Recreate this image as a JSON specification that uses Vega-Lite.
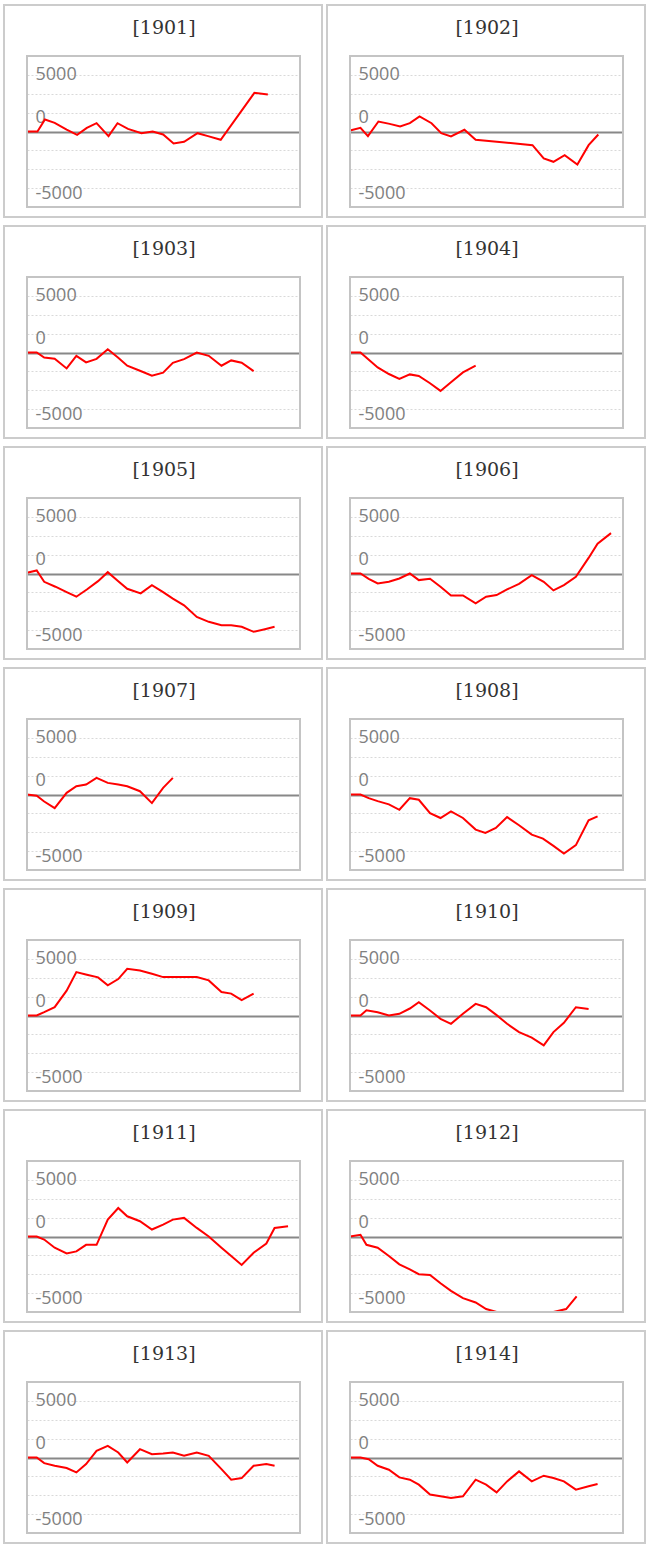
{
  "$schema": "https://vega.github.io/schema/vega-lite/v6.json",
  "background": "white",
  "padding": {"left": 3, "top": 4, "right": 0, "bottom": 0},
  "config": {
    "view": {"stroke": "#cccccc", "strokeWidth": 2},
    "line": {"color": "#ff0000", "strokeWidth": 2, "clip": false},
    "rect": {"filled": false, "stroke": "#c4c4c4", "strokeWidth": 2},
    "title": {"font": "DejaVu Serif", "fontSize": 19, "fontWeight": "normal", "color": "#333333", "anchor": "middle", "frame": "group", "baseline": "middle", "offset": -33, "dx": 1}
  },
  "data": {
    "values": [
      {"year": 1901, "day": 0, "value": 0}, {"year": 1901, "day": 14, "value": 0}, {"year": 1901, "day": 24, "value": 1270},
      {"year": 1901, "day": 37, "value": 920}, {"year": 1901, "day": 53, "value": 210}, {"year": 1901, "day": 67, "value": -350},
      {"year": 1901, "day": 80, "value": 390}, {"year": 1901, "day": 93, "value": 880}, {"year": 1901, "day": 109, "value": -490},
      {"year": 1901, "day": 121, "value": 880}, {"year": 1901, "day": 135, "value": 280}, {"year": 1901, "day": 153, "value": -180},
      {"year": 1901, "day": 168, "value": 0}, {"year": 1901, "day": 182, "value": -320}, {"year": 1901, "day": 196, "value": -1270},
      {"year": 1901, "day": 210, "value": -1090}, {"year": 1901, "day": 228, "value": -180}, {"year": 1901, "day": 242, "value": -490},
      {"year": 1901, "day": 259, "value": -880}, {"year": 1901, "day": 304, "value": 4100}, {"year": 1901, "day": 322, "value": 3920},
      {"year": 1902, "day": 0, "value": 110}, {"year": 1902, "day": 14, "value": 390}, {"year": 1902, "day": 24, "value": -490},
      {"year": 1902, "day": 38, "value": 1060}, {"year": 1902, "day": 53, "value": 810}, {"year": 1902, "day": 67, "value": 530},
      {"year": 1902, "day": 80, "value": 880}, {"year": 1902, "day": 93, "value": 1590}, {"year": 1902, "day": 109, "value": 880},
      {"year": 1902, "day": 122, "value": -180}, {"year": 1902, "day": 135, "value": -530}, {"year": 1902, "day": 153, "value": 180},
      {"year": 1902, "day": 168, "value": -880}, {"year": 1902, "day": 244, "value": -1450}, {"year": 1902, "day": 259, "value": -2860},
      {"year": 1902, "day": 272, "value": -3210}, {"year": 1902, "day": 287, "value": -2510}, {"year": 1902, "day": 304, "value": -3500},
      {"year": 1902, "day": 319, "value": -1450}, {"year": 1902, "day": 332, "value": -320},
      {"year": 1903, "day": 0, "value": 0}, {"year": 1903, "day": 13, "value": 0}, {"year": 1903, "day": 23, "value": -530},
      {"year": 1903, "day": 37, "value": -670}, {"year": 1903, "day": 53, "value": -1690}, {"year": 1903, "day": 66, "value": -350},
      {"year": 1903, "day": 79, "value": -1050}, {"year": 1903, "day": 93, "value": -670}, {"year": 1903, "day": 108, "value": 350},
      {"year": 1903, "day": 122, "value": -560}, {"year": 1903, "day": 134, "value": -1400}, {"year": 1903, "day": 151, "value": -1930},
      {"year": 1903, "day": 167, "value": -2460}, {"year": 1903, "day": 182, "value": -2140}, {"year": 1903, "day": 195, "value": -1090},
      {"year": 1903, "day": 210, "value": -700}, {"year": 1903, "day": 227, "value": 0}, {"year": 1903, "day": 243, "value": -350},
      {"year": 1903, "day": 260, "value": -1400}, {"year": 1903, "day": 273, "value": -840}, {"year": 1903, "day": 287, "value": -1090},
      {"year": 1903, "day": 303, "value": -1970},
      {"year": 1904, "day": 0, "value": 0}, {"year": 1904, "day": 14, "value": 0}, {"year": 1904, "day": 37, "value": -1580},
      {"year": 1904, "day": 52, "value": -2280}, {"year": 1904, "day": 66, "value": -2810}, {"year": 1904, "day": 80, "value": -2320},
      {"year": 1904, "day": 92, "value": -2490}, {"year": 1904, "day": 107, "value": -3260}, {"year": 1904, "day": 121, "value": -4070},
      {"year": 1904, "day": 135, "value": -3160}, {"year": 1904, "day": 151, "value": -2110}, {"year": 1904, "day": 168, "value": -1400},
      {"year": 1905, "day": 0, "value": 70}, {"year": 1905, "day": 13, "value": 320}, {"year": 1905, "day": 23, "value": -880},
      {"year": 1905, "day": 38, "value": -1400}, {"year": 1905, "day": 53, "value": -1970}, {"year": 1905, "day": 66, "value": -2460},
      {"year": 1905, "day": 80, "value": -1690}, {"year": 1905, "day": 95, "value": -810}, {"year": 1905, "day": 108, "value": 140},
      {"year": 1905, "day": 122, "value": -810}, {"year": 1905, "day": 134, "value": -1620}, {"year": 1905, "day": 152, "value": -2110},
      {"year": 1905, "day": 167, "value": -1230}, {"year": 1905, "day": 182, "value": -1970}, {"year": 1905, "day": 195, "value": -2670},
      {"year": 1905, "day": 210, "value": -3370}, {"year": 1905, "day": 227, "value": -4600}, {"year": 1905, "day": 243, "value": -5120},
      {"year": 1905, "day": 260, "value": -5480}, {"year": 1905, "day": 273, "value": -5480}, {"year": 1905, "day": 287, "value": -5650},
      {"year": 1905, "day": 303, "value": -6180}, {"year": 1905, "day": 318, "value": -5900}, {"year": 1905, "day": 331, "value": -5650},
      {"year": 1906, "day": 0, "value": 0}, {"year": 1906, "day": 14, "value": 0}, {"year": 1906, "day": 25, "value": -560},
      {"year": 1906, "day": 37, "value": -1050}, {"year": 1906, "day": 52, "value": -880}, {"year": 1906, "day": 66, "value": -530},
      {"year": 1906, "day": 80, "value": 0}, {"year": 1906, "day": 92, "value": -700}, {"year": 1906, "day": 107, "value": -560},
      {"year": 1906, "day": 121, "value": -1400}, {"year": 1906, "day": 135, "value": -2320}, {"year": 1906, "day": 151, "value": -2320},
      {"year": 1906, "day": 168, "value": -3160}, {"year": 1906, "day": 182, "value": -2460}, {"year": 1906, "day": 196, "value": -2280},
      {"year": 1906, "day": 210, "value": -1690}, {"year": 1906, "day": 226, "value": -1090}, {"year": 1906, "day": 243, "value": -180},
      {"year": 1906, "day": 259, "value": -880}, {"year": 1906, "day": 272, "value": -1790}, {"year": 1906, "day": 286, "value": -1230},
      {"year": 1906, "day": 302, "value": -350}, {"year": 1906, "day": 319, "value": 1650}, {"year": 1906, "day": 331, "value": 3160},
      {"year": 1906, "day": 349, "value": 4280},
      {"year": 1907, "day": 0, "value": 0}, {"year": 1907, "day": 13, "value": -140}, {"year": 1907, "day": 23, "value": -740},
      {"year": 1907, "day": 37, "value": -1440}, {"year": 1907, "day": 53, "value": 180}, {"year": 1907, "day": 66, "value": 880},
      {"year": 1907, "day": 79, "value": 1050}, {"year": 1907, "day": 93, "value": 1760}, {"year": 1907, "day": 108, "value": 1230},
      {"year": 1907, "day": 122, "value": 1050}, {"year": 1907, "day": 134, "value": 880}, {"year": 1907, "day": 151, "value": 350},
      {"year": 1907, "day": 167, "value": -910}, {"year": 1907, "day": 182, "value": 700}, {"year": 1907, "day": 195, "value": 1760},
      {"year": 1908, "day": 0, "value": 0}, {"year": 1908, "day": 14, "value": 0}, {"year": 1908, "day": 25, "value": -390},
      {"year": 1908, "day": 37, "value": -700}, {"year": 1908, "day": 52, "value": -1050}, {"year": 1908, "day": 66, "value": -1620},
      {"year": 1908, "day": 80, "value": -390}, {"year": 1908, "day": 92, "value": -560}, {"year": 1908, "day": 107, "value": -1970},
      {"year": 1908, "day": 121, "value": -2490}, {"year": 1908, "day": 135, "value": -1790}, {"year": 1908, "day": 151, "value": -2490},
      {"year": 1908, "day": 168, "value": -3720}, {"year": 1908, "day": 181, "value": -4070}, {"year": 1908, "day": 195, "value": -3550},
      {"year": 1908, "day": 210, "value": -2390}, {"year": 1908, "day": 226, "value": -3260}, {"year": 1908, "day": 243, "value": -4250},
      {"year": 1908, "day": 258, "value": -4670}, {"year": 1908, "day": 272, "value": -5440}, {"year": 1908, "day": 286, "value": -6250},
      {"year": 1908, "day": 302, "value": -5370}, {"year": 1908, "day": 319, "value": -2740}, {"year": 1908, "day": 331, "value": -2320},
      {"year": 1909, "day": 0, "value": 0}, {"year": 1909, "day": 13, "value": 0}, {"year": 1909, "day": 23, "value": 350},
      {"year": 1909, "day": 37, "value": 880}, {"year": 1909, "day": 53, "value": 2630}, {"year": 1909, "day": 66, "value": 4600},
      {"year": 1909, "day": 80, "value": 4320}, {"year": 1909, "day": 95, "value": 4040}, {"year": 1909, "day": 108, "value": 3190},
      {"year": 1909, "day": 122, "value": 3860}, {"year": 1909, "day": 134, "value": 4950}, {"year": 1909, "day": 151, "value": 4770},
      {"year": 1909, "day": 167, "value": 4420}, {"year": 1909, "day": 182, "value": 4070}, {"year": 1909, "day": 195, "value": 4070},
      {"year": 1909, "day": 210, "value": 4070}, {"year": 1909, "day": 227, "value": 4070}, {"year": 1909, "day": 243, "value": 3720},
      {"year": 1909, "day": 260, "value": 2490}, {"year": 1909, "day": 273, "value": 2320}, {"year": 1909, "day": 287, "value": 1620},
      {"year": 1909, "day": 303, "value": 2320},
      {"year": 1910, "day": 0, "value": 0}, {"year": 1910, "day": 14, "value": 0}, {"year": 1910, "day": 22, "value": 560},
      {"year": 1910, "day": 37, "value": 350}, {"year": 1910, "day": 52, "value": 0}, {"year": 1910, "day": 66, "value": 180},
      {"year": 1910, "day": 80, "value": 740}, {"year": 1910, "day": 92, "value": 1400}, {"year": 1910, "day": 107, "value": 530},
      {"year": 1910, "day": 121, "value": -350}, {"year": 1910, "day": 135, "value": -880}, {"year": 1910, "day": 151, "value": 180},
      {"year": 1910, "day": 168, "value": 1230}, {"year": 1910, "day": 182, "value": 880}, {"year": 1910, "day": 196, "value": 40},
      {"year": 1910, "day": 210, "value": -880}, {"year": 1910, "day": 226, "value": -1760}, {"year": 1910, "day": 243, "value": -2350},
      {"year": 1910, "day": 259, "value": -3160}, {"year": 1910, "day": 272, "value": -1760}, {"year": 1910, "day": 286, "value": -770},
      {"year": 1910, "day": 302, "value": 880}, {"year": 1910, "day": 319, "value": 700},
      {"year": 1911, "day": 0, "value": 0}, {"year": 1911, "day": 13, "value": 0}, {"year": 1911, "day": 23, "value": -320},
      {"year": 1911, "day": 37, "value": -1190}, {"year": 1911, "day": 53, "value": -1790}, {"year": 1911, "day": 66, "value": -1580},
      {"year": 1911, "day": 79, "value": -880}, {"year": 1911, "day": 93, "value": -880}, {"year": 1911, "day": 108, "value": 1790},
      {"year": 1911, "day": 122, "value": 3020}, {"year": 1911, "day": 134, "value": 2140}, {"year": 1911, "day": 151, "value": 1620},
      {"year": 1911, "day": 167, "value": 740}, {"year": 1911, "day": 182, "value": 1260}, {"year": 1911, "day": 195, "value": 1790},
      {"year": 1911, "day": 210, "value": 1970}, {"year": 1911, "day": 227, "value": 910}, {"year": 1911, "day": 243, "value": 0},
      {"year": 1911, "day": 260, "value": -1190}, {"year": 1911, "day": 273, "value": -2070}, {"year": 1911, "day": 287, "value": -3020},
      {"year": 1911, "day": 303, "value": -1720}, {"year": 1911, "day": 320, "value": -740}, {"year": 1911, "day": 331, "value": 910},
      {"year": 1911, "day": 349, "value": 1090},
      {"year": 1912, "day": 0, "value": 0}, {"year": 1912, "day": 14, "value": 180}, {"year": 1912, "day": 22, "value": -880},
      {"year": 1912, "day": 37, "value": -1190}, {"year": 1912, "day": 52, "value": -2070}, {"year": 1912, "day": 66, "value": -2950},
      {"year": 1912, "day": 80, "value": -3480}, {"year": 1912, "day": 92, "value": -4000}, {"year": 1912, "day": 107, "value": -4070},
      {"year": 1912, "day": 121, "value": -4950}, {"year": 1912, "day": 135, "value": -5760}, {"year": 1912, "day": 151, "value": -6530},
      {"year": 1912, "day": 168, "value": -6990}, {"year": 1912, "day": 182, "value": -7690}, {"year": 1912, "day": 196, "value": -8000},
      {"year": 1912, "day": 210, "value": -8000}, {"year": 1912, "day": 226, "value": -8000}, {"year": 1912, "day": 243, "value": -8000},
      {"year": 1912, "day": 259, "value": -8000}, {"year": 1912, "day": 272, "value": -8000}, {"year": 1912, "day": 289, "value": -7690},
      {"year": 1912, "day": 303, "value": -6350},
      {"year": 1913, "day": 0, "value": 0}, {"year": 1913, "day": 13, "value": 0}, {"year": 1913, "day": 23, "value": -600},
      {"year": 1913, "day": 37, "value": -880}, {"year": 1913, "day": 53, "value": -1120}, {"year": 1913, "day": 66, "value": -1580},
      {"year": 1913, "day": 79, "value": -700}, {"year": 1913, "day": 93, "value": 700}, {"year": 1913, "day": 108, "value": 1230},
      {"year": 1913, "day": 122, "value": 530}, {"year": 1913, "day": 134, "value": -530}, {"year": 1913, "day": 151, "value": 880},
      {"year": 1913, "day": 167, "value": 350}, {"year": 1913, "day": 182, "value": 420}, {"year": 1913, "day": 195, "value": 530},
      {"year": 1913, "day": 210, "value": 180}, {"year": 1913, "day": 227, "value": 530}, {"year": 1913, "day": 243, "value": 180},
      {"year": 1913, "day": 260, "value": -1230}, {"year": 1913, "day": 273, "value": -2350}, {"year": 1913, "day": 287, "value": -2180},
      {"year": 1913, "day": 303, "value": -880}, {"year": 1913, "day": 320, "value": -700}, {"year": 1913, "day": 331, "value": -880},
      {"year": 1914, "day": 0, "value": 0}, {"year": 1914, "day": 14, "value": 0}, {"year": 1914, "day": 25, "value": -180},
      {"year": 1914, "day": 37, "value": -880}, {"year": 1914, "day": 52, "value": -1300}, {"year": 1914, "day": 66, "value": -2110},
      {"year": 1914, "day": 80, "value": -2350}, {"year": 1914, "day": 92, "value": -2880}, {"year": 1914, "day": 107, "value": -3930},
      {"year": 1914, "day": 121, "value": -4110}, {"year": 1914, "day": 135, "value": -4280}, {"year": 1914, "day": 151, "value": -4110},
      {"year": 1914, "day": 168, "value": -2350}, {"year": 1914, "day": 182, "value": -2880}, {"year": 1914, "day": 196, "value": -3690},
      {"year": 1914, "day": 210, "value": -2530}, {"year": 1914, "day": 226, "value": -1470}, {"year": 1914, "day": 243, "value": -2530},
      {"year": 1914, "day": 259, "value": -1930}, {"year": 1914, "day": 272, "value": -2180}, {"year": 1914, "day": 286, "value": -2530},
      {"year": 1914, "day": 302, "value": -3410}, {"year": 1914, "day": 319, "value": -3050}, {"year": 1914, "day": 331, "value": -2810}
    ]
  },
  "columns": 2,
  "spacing": {"row": 7, "column": 3},
  "concat": [
    {"title": "[1901]", "width": 318, "height": 212, "transform": [{"filter": "datum.year == 1901"}], "resolve": {"axis": {"x": "independent", "y": "independent"}}, "layer": [
      {"mark": "line", "encoding": {
        "x": {"field": "day", "type": "quantitative", "scale": {"domain": [0, 365], "range": [23, 296], "nice": false, "zero": false}, "axis": null},
        "y": {"field": "value", "type": "quantitative", "scale": {"domain": [-8000, 8000], "range": [202, 51], "nice": false},
          "axis": {"title": null, "offset": -23, "domain": false, "ticks": false, "values": [-6000, -4000, -2000, 0, 2000, 4000, 6000],
            "labelExpr": "datum.value > 5000 ? '5000' : (datum.value > 1000 && datum.value < 3000) ? '0' : datum.value < -5000 ? '-5000' : ''",
            "labelAlign": "left", "labelBaseline": "middle", "labelPadding": -8, "labelOffset": {"condition": {"test": "datum.value > 4000", "value": 0}, "value": 5},
            "labelFont": "Open Sans", "labelFontSize": 18, "labelColor": "#808080", "labelOverlap": false, "grid": true,
            "gridColor": {"condition": {"test": "datum.value === 0", "value": "#888888"}, "value": "#d9d9d9"},
            "gridDash": {"condition": {"test": "datum.value === 0", "value": []}, "value": [2, 2]},
            "gridWidth": {"condition": {"test": "datum.value === 0", "value": 2}, "value": 1}}}}},
      {"transform": [{"aggregate": [{"op": "count", "as": "n"}], "groupby": ["year"]}], "mark": "rect",
        "encoding": {"x": {"datum": 0, "axis": null}, "x2": {"datum": 365}, "y": {"datum": -8000, "axis": null}, "y2": {"datum": 8000}}}
    ]},
    {"title": "[1902]", "width": 318, "height": 212, "transform": [{"filter": "datum.year == 1902"}], "resolve": {"axis": {"x": "independent", "y": "independent"}}, "layer": [
      {"mark": "line", "encoding": {
        "x": {"field": "day", "type": "quantitative", "scale": {"domain": [0, 365], "range": [23, 296], "nice": false, "zero": false}, "axis": null},
        "y": {"field": "value", "type": "quantitative", "scale": {"domain": [-8000, 8000], "range": [202, 51], "nice": false},
          "axis": {"title": null, "offset": -23, "domain": false, "ticks": false, "values": [-6000, -4000, -2000, 0, 2000, 4000, 6000],
            "labelExpr": "datum.value > 5000 ? '5000' : (datum.value > 1000 && datum.value < 3000) ? '0' : datum.value < -5000 ? '-5000' : ''",
            "labelAlign": "left", "labelBaseline": "middle", "labelPadding": -8, "labelOffset": {"condition": {"test": "datum.value > 4000", "value": 0}, "value": 5},
            "labelFont": "Open Sans", "labelFontSize": 18, "labelColor": "#808080", "labelOverlap": false, "grid": true,
            "gridColor": {"condition": {"test": "datum.value === 0", "value": "#888888"}, "value": "#d9d9d9"},
            "gridDash": {"condition": {"test": "datum.value === 0", "value": []}, "value": [2, 2]},
            "gridWidth": {"condition": {"test": "datum.value === 0", "value": 2}, "value": 1}}}}},
      {"transform": [{"aggregate": [{"op": "count", "as": "n"}], "groupby": ["year"]}], "mark": "rect",
        "encoding": {"x": {"datum": 0, "axis": null}, "x2": {"datum": 365}, "y": {"datum": -8000, "axis": null}, "y2": {"datum": 8000}}}
    ]},
    {"title": "[1903]", "width": 318, "height": 212, "transform": [{"filter": "datum.year == 1903"}], "resolve": {"axis": {"x": "independent", "y": "independent"}}, "layer": [
      {"mark": "line", "encoding": {
        "x": {"field": "day", "type": "quantitative", "scale": {"domain": [0, 365], "range": [23, 296], "nice": false, "zero": false}, "axis": null},
        "y": {"field": "value", "type": "quantitative", "scale": {"domain": [-8000, 8000], "range": [202, 51], "nice": false},
          "axis": {"title": null, "offset": -23, "domain": false, "ticks": false, "values": [-6000, -4000, -2000, 0, 2000, 4000, 6000],
            "labelExpr": "datum.value > 5000 ? '5000' : (datum.value > 1000 && datum.value < 3000) ? '0' : datum.value < -5000 ? '-5000' : ''",
            "labelAlign": "left", "labelBaseline": "middle", "labelPadding": -8, "labelOffset": {"condition": {"test": "datum.value > 4000", "value": 0}, "value": 5},
            "labelFont": "Open Sans", "labelFontSize": 18, "labelColor": "#808080", "labelOverlap": false, "grid": true,
            "gridColor": {"condition": {"test": "datum.value === 0", "value": "#888888"}, "value": "#d9d9d9"},
            "gridDash": {"condition": {"test": "datum.value === 0", "value": []}, "value": [2, 2]},
            "gridWidth": {"condition": {"test": "datum.value === 0", "value": 2}, "value": 1}}}}},
      {"transform": [{"aggregate": [{"op": "count", "as": "n"}], "groupby": ["year"]}], "mark": "rect",
        "encoding": {"x": {"datum": 0, "axis": null}, "x2": {"datum": 365}, "y": {"datum": -8000, "axis": null}, "y2": {"datum": 8000}}}
    ]},
    {"title": "[1904]", "width": 318, "height": 212, "transform": [{"filter": "datum.year == 1904"}], "resolve": {"axis": {"x": "independent", "y": "independent"}}, "layer": [
      {"mark": "line", "encoding": {
        "x": {"field": "day", "type": "quantitative", "scale": {"domain": [0, 365], "range": [23, 296], "nice": false, "zero": false}, "axis": null},
        "y": {"field": "value", "type": "quantitative", "scale": {"domain": [-8000, 8000], "range": [202, 51], "nice": false},
          "axis": {"title": null, "offset": -23, "domain": false, "ticks": false, "values": [-6000, -4000, -2000, 0, 2000, 4000, 6000],
            "labelExpr": "datum.value > 5000 ? '5000' : (datum.value > 1000 && datum.value < 3000) ? '0' : datum.value < -5000 ? '-5000' : ''",
            "labelAlign": "left", "labelBaseline": "middle", "labelPadding": -8, "labelOffset": {"condition": {"test": "datum.value > 4000", "value": 0}, "value": 5},
            "labelFont": "Open Sans", "labelFontSize": 18, "labelColor": "#808080", "labelOverlap": false, "grid": true,
            "gridColor": {"condition": {"test": "datum.value === 0", "value": "#888888"}, "value": "#d9d9d9"},
            "gridDash": {"condition": {"test": "datum.value === 0", "value": []}, "value": [2, 2]},
            "gridWidth": {"condition": {"test": "datum.value === 0", "value": 2}, "value": 1}}}}},
      {"transform": [{"aggregate": [{"op": "count", "as": "n"}], "groupby": ["year"]}], "mark": "rect",
        "encoding": {"x": {"datum": 0, "axis": null}, "x2": {"datum": 365}, "y": {"datum": -8000, "axis": null}, "y2": {"datum": 8000}}}
    ]},
    {"title": "[1905]", "width": 318, "height": 212, "transform": [{"filter": "datum.year == 1905"}], "resolve": {"axis": {"x": "independent", "y": "independent"}}, "layer": [
      {"mark": "line", "encoding": {
        "x": {"field": "day", "type": "quantitative", "scale": {"domain": [0, 365], "range": [23, 296], "nice": false, "zero": false}, "axis": null},
        "y": {"field": "value", "type": "quantitative", "scale": {"domain": [-8000, 8000], "range": [202, 51], "nice": false},
          "axis": {"title": null, "offset": -23, "domain": false, "ticks": false, "values": [-6000, -4000, -2000, 0, 2000, 4000, 6000],
            "labelExpr": "datum.value > 5000 ? '5000' : (datum.value > 1000 && datum.value < 3000) ? '0' : datum.value < -5000 ? '-5000' : ''",
            "labelAlign": "left", "labelBaseline": "middle", "labelPadding": -8, "labelOffset": {"condition": {"test": "datum.value > 4000", "value": 0}, "value": 5},
            "labelFont": "Open Sans", "labelFontSize": 18, "labelColor": "#808080", "labelOverlap": false, "grid": true,
            "gridColor": {"condition": {"test": "datum.value === 0", "value": "#888888"}, "value": "#d9d9d9"},
            "gridDash": {"condition": {"test": "datum.value === 0", "value": []}, "value": [2, 2]},
            "gridWidth": {"condition": {"test": "datum.value === 0", "value": 2}, "value": 1}}}}},
      {"transform": [{"aggregate": [{"op": "count", "as": "n"}], "groupby": ["year"]}], "mark": "rect",
        "encoding": {"x": {"datum": 0, "axis": null}, "x2": {"datum": 365}, "y": {"datum": -8000, "axis": null}, "y2": {"datum": 8000}}}
    ]},
    {"title": "[1906]", "width": 318, "height": 212, "transform": [{"filter": "datum.year == 1906"}], "resolve": {"axis": {"x": "independent", "y": "independent"}}, "layer": [
      {"mark": "line", "encoding": {
        "x": {"field": "day", "type": "quantitative", "scale": {"domain": [0, 365], "range": [23, 296], "nice": false, "zero": false}, "axis": null},
        "y": {"field": "value", "type": "quantitative", "scale": {"domain": [-8000, 8000], "range": [202, 51], "nice": false},
          "axis": {"title": null, "offset": -23, "domain": false, "ticks": false, "values": [-6000, -4000, -2000, 0, 2000, 4000, 6000],
            "labelExpr": "datum.value > 5000 ? '5000' : (datum.value > 1000 && datum.value < 3000) ? '0' : datum.value < -5000 ? '-5000' : ''",
            "labelAlign": "left", "labelBaseline": "middle", "labelPadding": -8, "labelOffset": {"condition": {"test": "datum.value > 4000", "value": 0}, "value": 5},
            "labelFont": "Open Sans", "labelFontSize": 18, "labelColor": "#808080", "labelOverlap": false, "grid": true,
            "gridColor": {"condition": {"test": "datum.value === 0", "value": "#888888"}, "value": "#d9d9d9"},
            "gridDash": {"condition": {"test": "datum.value === 0", "value": []}, "value": [2, 2]},
            "gridWidth": {"condition": {"test": "datum.value === 0", "value": 2}, "value": 1}}}}},
      {"transform": [{"aggregate": [{"op": "count", "as": "n"}], "groupby": ["year"]}], "mark": "rect",
        "encoding": {"x": {"datum": 0, "axis": null}, "x2": {"datum": 365}, "y": {"datum": -8000, "axis": null}, "y2": {"datum": 8000}}}
    ]},
    {"title": "[1907]", "width": 318, "height": 212, "transform": [{"filter": "datum.year == 1907"}], "resolve": {"axis": {"x": "independent", "y": "independent"}}, "layer": [
      {"mark": "line", "encoding": {
        "x": {"field": "day", "type": "quantitative", "scale": {"domain": [0, 365], "range": [23, 296], "nice": false, "zero": false}, "axis": null},
        "y": {"field": "value", "type": "quantitative", "scale": {"domain": [-8000, 8000], "range": [202, 51], "nice": false},
          "axis": {"title": null, "offset": -23, "domain": false, "ticks": false, "values": [-6000, -4000, -2000, 0, 2000, 4000, 6000],
            "labelExpr": "datum.value > 5000 ? '5000' : (datum.value > 1000 && datum.value < 3000) ? '0' : datum.value < -5000 ? '-5000' : ''",
            "labelAlign": "left", "labelBaseline": "middle", "labelPadding": -8, "labelOffset": {"condition": {"test": "datum.value > 4000", "value": 0}, "value": 5},
            "labelFont": "Open Sans", "labelFontSize": 18, "labelColor": "#808080", "labelOverlap": false, "grid": true,
            "gridColor": {"condition": {"test": "datum.value === 0", "value": "#888888"}, "value": "#d9d9d9"},
            "gridDash": {"condition": {"test": "datum.value === 0", "value": []}, "value": [2, 2]},
            "gridWidth": {"condition": {"test": "datum.value === 0", "value": 2}, "value": 1}}}}},
      {"transform": [{"aggregate": [{"op": "count", "as": "n"}], "groupby": ["year"]}], "mark": "rect",
        "encoding": {"x": {"datum": 0, "axis": null}, "x2": {"datum": 365}, "y": {"datum": -8000, "axis": null}, "y2": {"datum": 8000}}}
    ]},
    {"title": "[1908]", "width": 318, "height": 212, "transform": [{"filter": "datum.year == 1908"}], "resolve": {"axis": {"x": "independent", "y": "independent"}}, "layer": [
      {"mark": "line", "encoding": {
        "x": {"field": "day", "type": "quantitative", "scale": {"domain": [0, 365], "range": [23, 296], "nice": false, "zero": false}, "axis": null},
        "y": {"field": "value", "type": "quantitative", "scale": {"domain": [-8000, 8000], "range": [202, 51], "nice": false},
          "axis": {"title": null, "offset": -23, "domain": false, "ticks": false, "values": [-6000, -4000, -2000, 0, 2000, 4000, 6000],
            "labelExpr": "datum.value > 5000 ? '5000' : (datum.value > 1000 && datum.value < 3000) ? '0' : datum.value < -5000 ? '-5000' : ''",
            "labelAlign": "left", "labelBaseline": "middle", "labelPadding": -8, "labelOffset": {"condition": {"test": "datum.value > 4000", "value": 0}, "value": 5},
            "labelFont": "Open Sans", "labelFontSize": 18, "labelColor": "#808080", "labelOverlap": false, "grid": true,
            "gridColor": {"condition": {"test": "datum.value === 0", "value": "#888888"}, "value": "#d9d9d9"},
            "gridDash": {"condition": {"test": "datum.value === 0", "value": []}, "value": [2, 2]},
            "gridWidth": {"condition": {"test": "datum.value === 0", "value": 2}, "value": 1}}}}},
      {"transform": [{"aggregate": [{"op": "count", "as": "n"}], "groupby": ["year"]}], "mark": "rect",
        "encoding": {"x": {"datum": 0, "axis": null}, "x2": {"datum": 365}, "y": {"datum": -8000, "axis": null}, "y2": {"datum": 8000}}}
    ]},
    {"title": "[1909]", "width": 318, "height": 212, "transform": [{"filter": "datum.year == 1909"}], "resolve": {"axis": {"x": "independent", "y": "independent"}}, "layer": [
      {"mark": "line", "encoding": {
        "x": {"field": "day", "type": "quantitative", "scale": {"domain": [0, 365], "range": [23, 296], "nice": false, "zero": false}, "axis": null},
        "y": {"field": "value", "type": "quantitative", "scale": {"domain": [-8000, 8000], "range": [202, 51], "nice": false},
          "axis": {"title": null, "offset": -23, "domain": false, "ticks": false, "values": [-6000, -4000, -2000, 0, 2000, 4000, 6000],
            "labelExpr": "datum.value > 5000 ? '5000' : (datum.value > 1000 && datum.value < 3000) ? '0' : datum.value < -5000 ? '-5000' : ''",
            "labelAlign": "left", "labelBaseline": "middle", "labelPadding": -8, "labelOffset": {"condition": {"test": "datum.value > 4000", "value": 0}, "value": 5},
            "labelFont": "Open Sans", "labelFontSize": 18, "labelColor": "#808080", "labelOverlap": false, "grid": true,
            "gridColor": {"condition": {"test": "datum.value === 0", "value": "#888888"}, "value": "#d9d9d9"},
            "gridDash": {"condition": {"test": "datum.value === 0", "value": []}, "value": [2, 2]},
            "gridWidth": {"condition": {"test": "datum.value === 0", "value": 2}, "value": 1}}}}},
      {"transform": [{"aggregate": [{"op": "count", "as": "n"}], "groupby": ["year"]}], "mark": "rect",
        "encoding": {"x": {"datum": 0, "axis": null}, "x2": {"datum": 365}, "y": {"datum": -8000, "axis": null}, "y2": {"datum": 8000}}}
    ]},
    {"title": "[1910]", "width": 318, "height": 212, "transform": [{"filter": "datum.year == 1910"}], "resolve": {"axis": {"x": "independent", "y": "independent"}}, "layer": [
      {"mark": "line", "encoding": {
        "x": {"field": "day", "type": "quantitative", "scale": {"domain": [0, 365], "range": [23, 296], "nice": false, "zero": false}, "axis": null},
        "y": {"field": "value", "type": "quantitative", "scale": {"domain": [-8000, 8000], "range": [202, 51], "nice": false},
          "axis": {"title": null, "offset": -23, "domain": false, "ticks": false, "values": [-6000, -4000, -2000, 0, 2000, 4000, 6000],
            "labelExpr": "datum.value > 5000 ? '5000' : (datum.value > 1000 && datum.value < 3000) ? '0' : datum.value < -5000 ? '-5000' : ''",
            "labelAlign": "left", "labelBaseline": "middle", "labelPadding": -8, "labelOffset": {"condition": {"test": "datum.value > 4000", "value": 0}, "value": 5},
            "labelFont": "Open Sans", "labelFontSize": 18, "labelColor": "#808080", "labelOverlap": false, "grid": true,
            "gridColor": {"condition": {"test": "datum.value === 0", "value": "#888888"}, "value": "#d9d9d9"},
            "gridDash": {"condition": {"test": "datum.value === 0", "value": []}, "value": [2, 2]},
            "gridWidth": {"condition": {"test": "datum.value === 0", "value": 2}, "value": 1}}}}},
      {"transform": [{"aggregate": [{"op": "count", "as": "n"}], "groupby": ["year"]}], "mark": "rect",
        "encoding": {"x": {"datum": 0, "axis": null}, "x2": {"datum": 365}, "y": {"datum": -8000, "axis": null}, "y2": {"datum": 8000}}}
    ]},
    {"title": "[1911]", "width": 318, "height": 212, "transform": [{"filter": "datum.year == 1911"}], "resolve": {"axis": {"x": "independent", "y": "independent"}}, "layer": [
      {"mark": "line", "encoding": {
        "x": {"field": "day", "type": "quantitative", "scale": {"domain": [0, 365], "range": [23, 296], "nice": false, "zero": false}, "axis": null},
        "y": {"field": "value", "type": "quantitative", "scale": {"domain": [-8000, 8000], "range": [202, 51], "nice": false},
          "axis": {"title": null, "offset": -23, "domain": false, "ticks": false, "values": [-6000, -4000, -2000, 0, 2000, 4000, 6000],
            "labelExpr": "datum.value > 5000 ? '5000' : (datum.value > 1000 && datum.value < 3000) ? '0' : datum.value < -5000 ? '-5000' : ''",
            "labelAlign": "left", "labelBaseline": "middle", "labelPadding": -8, "labelOffset": {"condition": {"test": "datum.value > 4000", "value": 0}, "value": 5},
            "labelFont": "Open Sans", "labelFontSize": 18, "labelColor": "#808080", "labelOverlap": false, "grid": true,
            "gridColor": {"condition": {"test": "datum.value === 0", "value": "#888888"}, "value": "#d9d9d9"},
            "gridDash": {"condition": {"test": "datum.value === 0", "value": []}, "value": [2, 2]},
            "gridWidth": {"condition": {"test": "datum.value === 0", "value": 2}, "value": 1}}}}},
      {"transform": [{"aggregate": [{"op": "count", "as": "n"}], "groupby": ["year"]}], "mark": "rect",
        "encoding": {"x": {"datum": 0, "axis": null}, "x2": {"datum": 365}, "y": {"datum": -8000, "axis": null}, "y2": {"datum": 8000}}}
    ]},
    {"title": "[1912]", "width": 318, "height": 212, "transform": [{"filter": "datum.year == 1912"}], "resolve": {"axis": {"x": "independent", "y": "independent"}}, "layer": [
      {"mark": "line", "encoding": {
        "x": {"field": "day", "type": "quantitative", "scale": {"domain": [0, 365], "range": [23, 296], "nice": false, "zero": false}, "axis": null},
        "y": {"field": "value", "type": "quantitative", "scale": {"domain": [-8000, 8000], "range": [202, 51], "nice": false},
          "axis": {"title": null, "offset": -23, "domain": false, "ticks": false, "values": [-6000, -4000, -2000, 0, 2000, 4000, 6000],
            "labelExpr": "datum.value > 5000 ? '5000' : (datum.value > 1000 && datum.value < 3000) ? '0' : datum.value < -5000 ? '-5000' : ''",
            "labelAlign": "left", "labelBaseline": "middle", "labelPadding": -8, "labelOffset": {"condition": {"test": "datum.value > 4000", "value": 0}, "value": 5},
            "labelFont": "Open Sans", "labelFontSize": 18, "labelColor": "#808080", "labelOverlap": false, "grid": true,
            "gridColor": {"condition": {"test": "datum.value === 0", "value": "#888888"}, "value": "#d9d9d9"},
            "gridDash": {"condition": {"test": "datum.value === 0", "value": []}, "value": [2, 2]},
            "gridWidth": {"condition": {"test": "datum.value === 0", "value": 2}, "value": 1}}}}},
      {"transform": [{"aggregate": [{"op": "count", "as": "n"}], "groupby": ["year"]}], "mark": "rect",
        "encoding": {"x": {"datum": 0, "axis": null}, "x2": {"datum": 365}, "y": {"datum": -8000, "axis": null}, "y2": {"datum": 8000}}}
    ]},
    {"title": "[1913]", "width": 318, "height": 212, "transform": [{"filter": "datum.year == 1913"}], "resolve": {"axis": {"x": "independent", "y": "independent"}}, "layer": [
      {"mark": "line", "encoding": {
        "x": {"field": "day", "type": "quantitative", "scale": {"domain": [0, 365], "range": [23, 296], "nice": false, "zero": false}, "axis": null},
        "y": {"field": "value", "type": "quantitative", "scale": {"domain": [-8000, 8000], "range": [202, 51], "nice": false},
          "axis": {"title": null, "offset": -23, "domain": false, "ticks": false, "values": [-6000, -4000, -2000, 0, 2000, 4000, 6000],
            "labelExpr": "datum.value > 5000 ? '5000' : (datum.value > 1000 && datum.value < 3000) ? '0' : datum.value < -5000 ? '-5000' : ''",
            "labelAlign": "left", "labelBaseline": "middle", "labelPadding": -8, "labelOffset": {"condition": {"test": "datum.value > 4000", "value": 0}, "value": 5},
            "labelFont": "Open Sans", "labelFontSize": 18, "labelColor": "#808080", "labelOverlap": false, "grid": true,
            "gridColor": {"condition": {"test": "datum.value === 0", "value": "#888888"}, "value": "#d9d9d9"},
            "gridDash": {"condition": {"test": "datum.value === 0", "value": []}, "value": [2, 2]},
            "gridWidth": {"condition": {"test": "datum.value === 0", "value": 2}, "value": 1}}}}},
      {"transform": [{"aggregate": [{"op": "count", "as": "n"}], "groupby": ["year"]}], "mark": "rect",
        "encoding": {"x": {"datum": 0, "axis": null}, "x2": {"datum": 365}, "y": {"datum": -8000, "axis": null}, "y2": {"datum": 8000}}}
    ]},
    {"title": "[1914]", "width": 318, "height": 212, "transform": [{"filter": "datum.year == 1914"}], "resolve": {"axis": {"x": "independent", "y": "independent"}}, "layer": [
      {"mark": "line", "encoding": {
        "x": {"field": "day", "type": "quantitative", "scale": {"domain": [0, 365], "range": [23, 296], "nice": false, "zero": false}, "axis": null},
        "y": {"field": "value", "type": "quantitative", "scale": {"domain": [-8000, 8000], "range": [202, 51], "nice": false},
          "axis": {"title": null, "offset": -23, "domain": false, "ticks": false, "values": [-6000, -4000, -2000, 0, 2000, 4000, 6000],
            "labelExpr": "datum.value > 5000 ? '5000' : (datum.value > 1000 && datum.value < 3000) ? '0' : datum.value < -5000 ? '-5000' : ''",
            "labelAlign": "left", "labelBaseline": "middle", "labelPadding": -8, "labelOffset": {"condition": {"test": "datum.value > 4000", "value": 0}, "value": 5},
            "labelFont": "Open Sans", "labelFontSize": 18, "labelColor": "#808080", "labelOverlap": false, "grid": true,
            "gridColor": {"condition": {"test": "datum.value === 0", "value": "#888888"}, "value": "#d9d9d9"},
            "gridDash": {"condition": {"test": "datum.value === 0", "value": []}, "value": [2, 2]},
            "gridWidth": {"condition": {"test": "datum.value === 0", "value": 2}, "value": 1}}}}},
      {"transform": [{"aggregate": [{"op": "count", "as": "n"}], "groupby": ["year"]}], "mark": "rect",
        "encoding": {"x": {"datum": 0, "axis": null}, "x2": {"datum": 365}, "y": {"datum": -8000, "axis": null}, "y2": {"datum": 8000}}}
    ]}
  ]
}
